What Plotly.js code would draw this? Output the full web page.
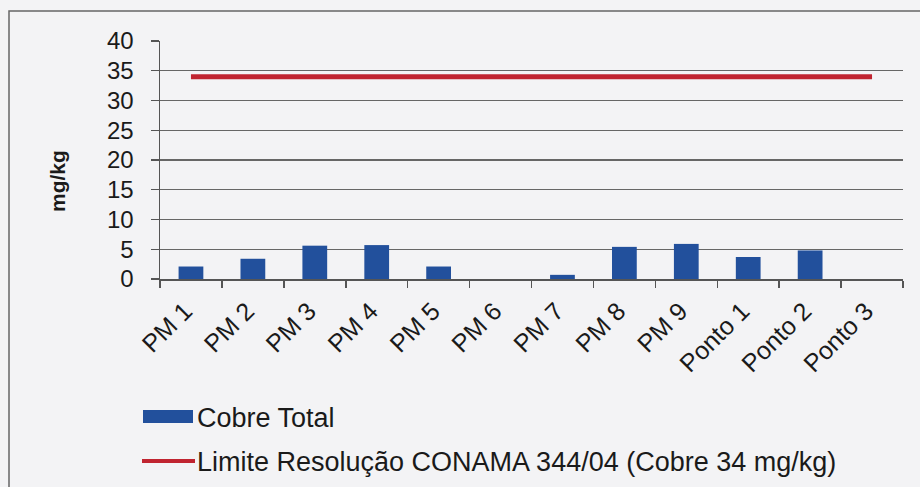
<!DOCTYPE html>
<html>
<head>
<meta charset="utf-8">
<script src="https://cdn.plot.ly/plotly-3.0.1.min.js"></script>
<style>html,body{margin:0;padding:0;background:#f3f3f5;}#chart{width:920px;height:487px;}</style>
</head>
<body>
<div id="chart"></div>
<script>
const categories = ["PM 1","PM 2","PM 3","PM 4","PM 5","PM 6","PM 7","PM 8","PM 9","Ponto 1","Ponto 2","Ponto 3"];
const cobreTotal = [2.1, 3.4, 5.6, 5.7, 2.1, 0, 0.7, 5.4, 5.9, 3.7, 4.8, 0];
const limiteConama = [34,34,34,34,34,34,34,34,34,34,34,34];
const seriesNames = ["Cobre Total", "Limite Resolução CONAMA 344/04 (Cobre 34 mg/kg)"];
const yTicks = [0,5,10,15,20,25,30,35,40];
const yTitle = "mg/kg";

const font = "Liberation Sans, Arial, sans-serif";
const blue = "#22509c";
const red = "#c02430";
const W = 743, H = 238, L = 160, T = 41;
const px = x => (x - L) / W;
const py = y => (T + H - y) / H;

const traces = [
  {type:"bar", x:categories, y:cobreTotal, name:seriesNames[0], marker:{color:blue}, showlegend:false, hoverinfo:"x+y"},
  {type:"scatter", mode:"lines", x:categories, y:limiteConama, name:seriesNames[1], line:{color:red, width:5}, showlegend:false}
];

const layout = {
  width:920, height:487,
  margin:{l:L, r:920-L-W, t:T, b:487-T-H},
  paper_bgcolor:"#f3f3f5", plot_bgcolor:"#f3f3f5",
  bargap:0.6,
  showlegend:false,
  font:{family:font, color:"#1a1a1a"},
  xaxis:{
    type:"category", tickangle:-45, tickfont:{size:25, family:font, color:"#1a1a1a"},
    showline:true, linecolor:"#555", linewidth:1.5,
    ticks:"outside", tickson:"boundaries", ticklen:7, tickcolor:"#555", tickwidth:1.5,
    ticklabelstandoff:6, ticklabelshift:-6,
    showgrid:false, zeroline:false, fixedrange:true
  },
  yaxis:{
    range:[0,40], tickvals:yTicks, ticktext:yTicks.map(String),
    tickfont:{size:24, family:font, color:"#1a1a1a"},
    showline:true, linecolor:"#555", linewidth:1.5,
    ticks:"outside", ticklen:8, tickcolor:"#555", tickwidth:1.2,
    ticklabelstandoff:12,
    showgrid:true, gridcolor:"#666", gridwidth:1.2, zeroline:false,
    fixedrange:true
  },
  shapes:[
    {type:"rect", xref:"paper", yref:"paper", x0:px(9), x1:1.05, y0:-0.95, y1:py(11), line:{color:"#666", width:1.5}, fillcolor:"rgba(0,0,0,0)", layer:"below"},
    {type:"rect", xref:"paper", yref:"paper", x0:px(143), x1:px(193), y0:py(423), y1:py(410), line:{width:0}, fillcolor:blue},
    {type:"line", xref:"paper", yref:"paper", x0:px(142), x1:px(195), y0:py(461), y1:py(461), line:{color:red, width:4}}
  ],
  annotations:[
    {xref:"paper", yref:"paper", x:px(57), y:py(181), xanchor:"center", yanchor:"middle", textangle:-90, showarrow:false, text:"<b>"+yTitle+"</b>", font:{size:21, family:font, color:"#1a1a1a"}},
    {xref:"paper", yref:"paper", x:px(195), y:py(418), xanchor:"left", yanchor:"middle", showarrow:false, text:seriesNames[0], font:{size:27, family:font, color:"#1a1a1a"}},
    {xref:"paper", yref:"paper", x:px(195), y:py(462), xanchor:"left", yanchor:"middle", showarrow:false, text:seriesNames[1], font:{size:27, family:font, color:"#1a1a1a"}}
  ]
};

Plotly.newPlot("chart", traces, layout, {displayModeBar:false, staticPlot:true});
</script>
</body>
</html>
